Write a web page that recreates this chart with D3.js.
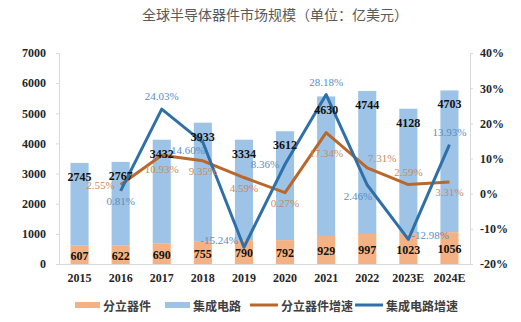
<!DOCTYPE html>
<html><head><meta charset="utf-8">
<script src="https://cdn.jsdelivr.net/npm/d3@7/dist/d3.min.js"></script>
<style>body{margin:0;background:#fff}svg{display:block}</style>
</head><body><svg id="c" width="521" height="322"></svg>
<script>
const categories = ["2015","2016","2017","2018","2019","2020","2021","2022","2023E","2024E"];
const discrete = [607,622,690,755,790,792,929,997,1023,1056];
const ic = [2745,2767,3432,3933,3334,3612,4630,4744,4128,4703];
const discreteGrowth = [null,2.55,10.93,9.35,4.59,0.27,17.34,7.31,2.59,3.31];
const icGrowth = [null,0.81,24.03,14.60,-15.24,8.36,28.18,2.46,-12.98,13.93];
const leftTicks = [0,1000,2000,3000,4000,5000,6000,7000];
const rightTicks = [-20,-10,0,10,20,30,40];
const title = "全球半导体器件市场规模（单位：亿美元）";
const legendLabels = ["分立器件","集成电路","分立器件增速","集成电路增速"];

// label placement (style only)
const icGrowthPos = [null,"below","above","leftdown","leftup","left","above","belowleft","right","above"];
const discGrowthPos = [null,"left","belowM","below","below","below","below2","aboveright","above","below"];

const C = {disc:"#f4b183", ic:"#9dc3e6", discLine:"#b9672a", icLine:"#2f70a8", discLbl:"#c98a5c", icLbl:"#5b8dbd"};
const svg = d3.select("#c");
const L=59, R=470, T=53, B=264;
const x = d3.scaleBand().domain(categories).range([L,R]).paddingInner(0.56).paddingOuter(0.28);
const cx = c => x(c)+x.bandwidth()/2;
const y = d3.scaleLinear().domain([0,7000]).range([B,T]);
const y2 = d3.scaleLinear().domain([-20,40]).range([B,T]);
const serif = "'Liberation Serif','DejaVu Serif',serif";
const cjk = "'Noto Sans CJK SC','Noto Sans',sans-serif";

svg.append("text").attr("x",275).attr("y",20).attr("text-anchor","middle")
  .attr("font-family",cjk).attr("font-size",14).attr("fill","#595959").text(title);

// axes
const gl = svg.append("g").attr("transform",`translate(${L},0)`)
  .call(d3.axisLeft(y).tickValues(leftTicks).tickSize(3).tickPadding(10).tickFormat(d3.format("d")));
const gr = svg.append("g").attr("transform",`translate(${R},0)`)
  .call(d3.axisRight(y2).tickValues(rightTicks).tickSize(3).tickPadding(7).tickFormat(d=>d+"%"));
[gl,gr].forEach(g=>{
  g.select(".domain").attr("stroke","#d9d9d9");
  g.selectAll(".tick line").attr("stroke","#d9d9d9");
  g.selectAll("text").attr("font-family",serif).attr("font-weight","bold").attr("font-size",12).attr("fill","#262626");
});
const gx = svg.append("g").attr("transform",`translate(0,${B})`)
  .call(d3.axisBottom(x).tickSize(0).tickPadding(9));
gx.select(".domain").attr("stroke","#d9d9d9");
gx.selectAll("text").attr("font-family",serif).attr("font-weight","bold").attr("font-size",12).attr("fill","#262626");

// bars
const bw = x.bandwidth();
svg.append("g").selectAll("rect").data(categories).join("rect")
  .attr("x",c=>x(c)).attr("width",bw)
  .attr("y",(c,i)=>y(discrete[i])).attr("height",(c,i)=>y(0)-y(discrete[i])).attr("fill",C.disc);
svg.append("g").selectAll("rect").data(categories).join("rect")
  .attr("x",c=>x(c)).attr("width",bw)
  .attr("y",(c,i)=>y(discrete[i]+ic[i])).attr("height",(c,i)=>y(discrete[i])-y(discrete[i]+ic[i])).attr("fill",C.ic);

// lines
const mk = arr => categories.map((c,i)=>({c,v:arr[i],i})).filter(d=>d.v!==null);
const line = d3.line().x(d=>cx(d.c)).y(d=>y2(d.v));
svg.append("path").datum(mk(discreteGrowth)).attr("d",line).attr("fill","none").attr("stroke",C.discLine).attr("stroke-width",3).attr("stroke-linejoin","round");
svg.append("path").datum(mk(icGrowth)).attr("d",line).attr("fill","none").attr("stroke",C.icLine).attr("stroke-width",3).attr("stroke-linejoin","round");

// value labels
const vl = svg.append("g").attr("font-family",serif).attr("font-weight","bold").attr("font-size",12).attr("fill","#111").attr("text-anchor","middle").attr("dominant-baseline","central");
categories.forEach((c,i)=>{
  vl.append("text").attr("x",cx(c)).attr("y",(y(0)+y(discrete[i]))/2+1).text(discrete[i]);
  vl.append("text").attr("x",cx(c)).attr("y",y(discrete[i]+ic[i])+14).text(ic[i]);
});

// growth labels
function place(g, d, pos){
  const px=cx(d.c), py=y2(d.v);
  let tx=px, ty=py, anchor="middle";
  switch(pos){
    case "above": ty=py-13; break;
    case "below": ty=py+10; break;
    case "belowM": ty=py+14; break;
    case "below2": ty=py+20; break;
    case "left": tx=px-6; ty=py; anchor="end"; break;
    case "leftdown": tx=px+2; ty=py+8; anchor="end"; break;
    case "leftup": tx=px-6; ty=py-7; anchor="end"; break;
    case "right": tx=px+3; ty=py-4; anchor="start"; break;
    case "belowleft": tx=px+5; ty=py+11; anchor="end"; break;
    case "aboveright": tx=px+15; ty=py-10; break;
  }
  g.append("text").attr("x",tx).attr("y",ty).attr("text-anchor",anchor).text(d.v.toFixed(2)+"%");
}
const gd = svg.append("g").attr("font-family",serif).attr("font-size",11).attr("fill",C.discLbl).attr("dominant-baseline","central");
mk(discreteGrowth).forEach(d=>place(gd,d,discGrowthPos[d.i]));
const gi = svg.append("g").attr("font-family",serif).attr("font-size",11).attr("fill",C.icLbl).attr("dominant-baseline","central");
mk(icGrowth).forEach(d=>place(gi,d,icGrowthPos[d.i]));

// legend
const lg = svg.append("g").attr("font-family",cjk).attr("font-size",12).attr("font-weight","bold").attr("fill","#404040");
const items = [
  {x:75, type:"rect", color:C.disc},
  {x:165, type:"rect", color:C.ic},
  {x:250, type:"line", color:C.discLine},
  {x:355, type:"line", color:C.icLine}
];
const ly=305;
items.forEach((it,k)=>{
  const w = it.type==="rect"?25:28;
  if(it.type==="rect") lg.append("rect").attr("x",it.x).attr("y",ly-3).attr("width",w).attr("height",6).attr("fill",it.color);
  else lg.append("line").attr("x1",it.x).attr("x2",it.x+w).attr("y1",ly).attr("y2",ly).attr("stroke",it.color).attr("stroke-width",3);
  lg.append("text").attr("x",it.x+w+3).attr("y",ly).attr("dominant-baseline","central").text(legendLabels[k]);
});
</script></body></html>
